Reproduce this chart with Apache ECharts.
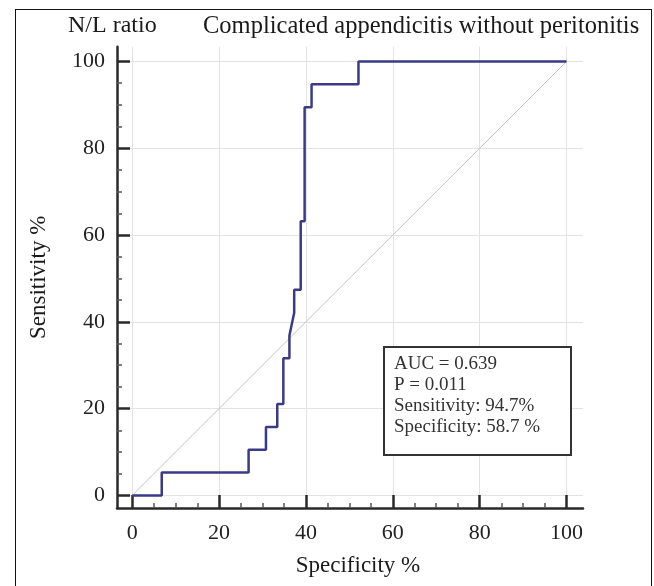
<!DOCTYPE html>
<html>
<head>
<meta charset="utf-8">
<title>N/L ratio ROC</title>
<script src="https://cdn.jsdelivr.net/npm/echarts@6/dist/echarts.min.js"></script>
<style>
    body { margin: 0; background: #fff; }
    #frame {
        position: absolute; left: 15px; top: 9px; width: 635px; height: 600px;
        border: 1px solid #111; border-bottom: none;
    }
    #roc-chart { position: absolute; left: 0; top: 0; width: 654px; height: 586px; }
</style>
</head>
<body>
<div id="frame"></div>
<div id="roc-chart"></div>
<script>
// ROC curve (x = specificity %, y = sensitivity %)
var rocX = [0, 6.8, 6.8, 26.8, 26.8, 30.8, 30.8, 33.4, 33.4, 34.8, 34.8, 36.2, 36.2, 37.3, 37.3, 38.8, 38.8, 39.7, 39.7, 41.3, 41.3, 52.1, 52.1, 100];
var rocY = [0, 0, 5.26, 5.26, 10.53, 10.53, 15.79, 15.79, 21.05, 21.05, 31.58, 31.58, 36.84, 42.11, 47.37, 47.37, 63.16, 63.16, 89.47, 89.47, 94.74, 94.74, 100, 100];

var diagX = [0, 100];
var diagY = [0, 100];

var tickValues = [0, 20, 40, 60, 80, 100];

var statLines = ['AUC = 0.639', 'P = 0.011', 'Sensitivity: 94.7%', 'Specificity: 58.7 %'];

var _pairs = function (xs, ys) {
    var out = [];
    for (var i = 0; i < xs.length; i++) {
        out.push([xs[i], ys[i]]);
    }
    return out;
};

var serif = 'Liberation Serif';
var axisColor = '#2a2a2a';

var _axis = function (min, max, labelMargin) {
    return {
        type: 'value',
        min: min,
        max: max,
        splitNumber: 5,
        minInterval: 20,
        maxInterval: 20,
        axisLine: { show: true, onZero: false, lineStyle: { color: axisColor, width: 2.5 } },
        axisTick: { show: true, inside: true, length: 13, customValues: tickValues,
            lineStyle: { color: axisColor, width: 2.5 } },
        minorTick: { show: true, splitNumber: 4, length: 5, lineStyle: { color: '#555', width: 1.5 } },
        axisLabel: { customValues: tickValues, margin: labelMargin, fontSize: 22,
            fontFamily: serif, color: '#222' },
        splitLine: { show: true, lineStyle: { color: '#e3e3e3', width: 1 } },
        nameLocation: 'middle',
        nameTextStyle: { fontSize: 23, fontFamily: serif, color: '#1a1a1a' }
    };
};

var myChart = echarts.init(document.getElementById('roc-chart'));

var xAxis = _axis(-3.5, 103.8, 14);
xAxis.name = 'Specificity %';
xAxis.nameGap = 46;
xAxis.nameTextStyle.padding = [0, 0, 0, 16];

var yAxis = _axis(-2.9, 103.4, 12);
yAxis.name = 'Sensitivity %';
yAxis.nameGap = 67;

var option = {
    animation: false,
    textStyle: { fontFamily: serif },
    title: [{
        text: 'N/L ratio',
        left: 68, top: 14, padding: 0,
        textStyle: { fontSize: 24, fontWeight: 'normal', fontFamily: serif, color: '#1a1a1a' }
    }, {
        text: 'Complicated appendicitis without peritonitis',
        left: 203, top: 14, padding: 0,
        textStyle: { fontSize: 24.5, fontWeight: 'normal', fontFamily: serif, color: '#1a1a1a' }
    }],
    grid: { left: 117, right: 71, top: 46.7, bottom: 78 },
    xAxis: xAxis,
    yAxis: yAxis,
    graphic: [{
        type: 'group',
        left: 383, top: 346,
        z: 100,
        children: [{
            type: 'rect',
            z: 100,
            shape: { x: 0, y: 0, width: 187, height: 108 },
            style: { fill: '#fff', stroke: '#333', lineWidth: 2 }
        }, {
            type: 'text',
            z: 101,
            x: 10, y: 7,
            style: {
                text: statLines.join('\n'),
                font: '19px "Liberation Serif"',
                lineHeight: 21,
                fill: '#333'
            }
        }]
    }],
    series: [{
        name: 'reference',
        type: 'line',
        data: _pairs(diagX, diagY),
        showSymbol: false,
        silent: true,
        lineStyle: { color: '#c4c4c4', width: 1 }
    }, {
        name: 'N/L ratio',
        type: 'line',
        data: _pairs(rocX, rocY),
        showSymbol: false,
        lineStyle: { color: '#3a3a85', width: 2.5 }
    }]
};

myChart.setOption(option);
</script>
</body>
</html>
